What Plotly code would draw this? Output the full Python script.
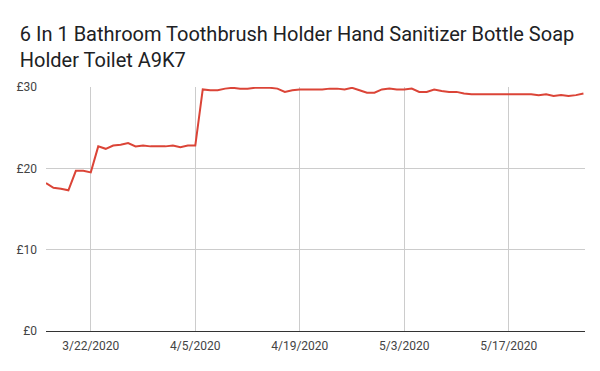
import plotly.graph_objects as go
import pandas as pd

title = "6 In 1 Bathroom Toothbrush Holder Hand Sanitizer Bottle Soap<br>Holder Toilet A9K7"
start_date = "2020-03-16"
prices = [
    18.2, 17.6, 17.5, 17.3, 19.7, 19.7, 19.5,  # 3/16 - 3/22
    22.7, 22.4, 22.8, 22.9, 23.1, 22.7, 22.8,  # 3/23 - 3/29
    22.7, 22.7, 22.7, 22.8, 22.6, 22.8, 22.8,  # 3/30 - 4/5
    29.7, 29.6, 29.6, 29.8, 29.9, 29.8, 29.8,  # 4/6 - 4/12
    29.9, 29.9, 29.9, 29.8, 29.4, 29.6, 29.7,  # 4/13 - 4/19
    29.7, 29.7, 29.7, 29.8, 29.8, 29.7, 29.9,  # 4/20 - 4/26
    29.6, 29.3, 29.3, 29.7, 29.8, 29.7, 29.7,  # 4/27 - 5/3
    29.8, 29.4, 29.4, 29.7, 29.5, 29.4, 29.4,  # 5/4 - 5/10
    29.2, 29.1, 29.1, 29.1, 29.1, 29.1, 29.1,  # 5/11 - 5/17
    29.1, 29.1, 29.1, 29.0, 29.1, 28.9, 29.0,  # 5/18 - 5/24
    28.9, 29.0, 29.2,                          # 5/25 - 5/27
]
dates = pd.date_range(start_date, periods=len(prices), freq="D")
tick_dates = ["2020-03-22", "2020-04-05", "2020-04-19", "2020-05-03", "2020-05-17"]
tick_labels = ["3/22/2020", "4/5/2020", "4/19/2020", "5/3/2020", "5/17/2020"]
y_ticks = [0, 10, 20, 30]
y_labels = ["£0", "£10", "£20", "£30"]

fig = go.Figure()
fig.add_trace(go.Scatter(
    x=dates, y=prices, mode="lines",
    line=dict(color="#db4437", width=2),
    hoverinfo="skip", cliponaxis=False,
))
fig.update_layout(
    width=600, height=371,
    margin=dict(l=46, r=15, t=87, b=40),
    paper_bgcolor="white", plot_bgcolor="white",
    showlegend=False,
    font=dict(family="Roboto", color="#444444", size=12),
    title=dict(text=title, x=0.033, xanchor="left", y=0.89, yanchor="top",
               font=dict(family="Roboto", size=20, color="#202124")),
    xaxis=dict(
        range=[pd.Timestamp("2020-03-16"), pd.Timestamp("2020-05-28") - pd.Timedelta(hours=19)],
        tickvals=tick_dates, ticktext=tick_labels,
        showgrid=True, gridcolor="#cccccc", gridwidth=1,
        showline=False, zeroline=False, ticks="",
        tickfont=dict(size=12, color="#444444"),
        ticklabelstandoff=6,
    ),
    yaxis=dict(
        range=[0, 30], tickvals=y_ticks, ticktext=y_labels,
        showgrid=True, gridcolor="#cccccc", gridwidth=1,
        zeroline=True, zerolinecolor="#333333", zerolinewidth=1,
        showline=False, ticks="",
        tickfont=dict(size=12, color="#444444"),
        ticklabelstandoff=8,
    ),
)
fig.write_html("out.html")
